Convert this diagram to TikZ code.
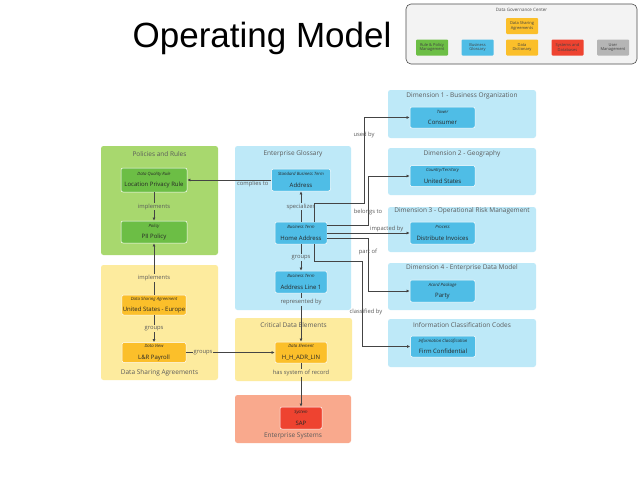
\documentclass[tikz,border=0pt]{standalone}
\usepackage{fontspec}
\setmainfont{Open Sans}
\newfontfamily\titlefont{Liberation Sans}
\usetikzlibrary{arrows.meta}
\definecolor{grpgreen}{HTML}{A8D86E}
\definecolor{trmgreen}{HTML}{6CBE45}
\definecolor{grpyellow}{HTML}{FDEB9E}
\definecolor{trmyellow}{HTML}{FBBF2A}
\definecolor{grpblue}{HTML}{BEE9F8}
\definecolor{trmblue}{HTML}{4FBDE6}
\definecolor{grpsalmon}{HTML}{F9A98D}
\definecolor{trmred}{HTML}{EE4330}
\definecolor{trmgray}{HTML}{B5B5B5}
\definecolor{dgcfill}{HTML}{F3F3F3}
\definecolor{lineclr}{HTML}{444444}
\definecolor{txtclr}{HTML}{5A5A5A}
\newcommand{\term}[2]{{\fontsize{4.3}{5}\selectfont\itshape #1}\\[-0.5pt]{\fontsize{6}{7}\selectfont #2}}
\begin{document}
\begin{tikzpicture}[x=1pt, y=-1pt,
    grp/.style={rounded corners=2.5pt},
    trm/.style={draw=white, line width=0.5pt, rounded corners=2pt, minimum width=52pt,
      minimum height=22pt, inner sep=1pt, align=center, text=black!85},
    ttl/.style={text=txtclr, font=\fontsize{6.5}{7.5}\selectfont, inner sep=0pt},
    lbl/.style={text=txtclr, font=\fontsize{5.8}{6.5}\selectfont, inner sep=1pt},
    arr/.style={-{Latex[length=3.2pt,width=3pt]}, draw=lineclr, line width=0.75pt},
    mini/.style={rounded corners=1pt, minimum width=32pt, minimum height=16pt, inner sep=0pt,
      align=center, text=black!75, font=\fontsize{4}{4.8}\selectfont}]
  \useasboundingbox[fill=white] (0,0) rectangle (638,479);
  \node[font=\titlefont\fontsize{35}{40}\selectfont, anchor=base] (title) at (262,47) {Operating Model};
  \draw[draw=black!70, fill=dgcfill, rounded corners=5pt, line width=0.6pt] (406,4) rectangle (637,64);
  \node[text=black!70, font=\fontsize{4.5}{5}\selectfont] (dgc) at (521.5,10) {Data Governance Center};
  \node[mini, fill=trmyellow] (dgcshare) at (522,26) {Data Sharing\\Agreements};
  \node[mini, fill=trmgreen] (dgcrule) at (432,47.5) {Rule \& Policy\\Management};
  \node[mini, fill=trmblue] (dgcgloss) at (477.5,47.5) {Business\\Glossary};
  \node[mini, fill=trmyellow] (dgcdict) at (522,47.5) {Data\\Dictionary};
  \node[mini, fill=trmred] (dgcsys) at (567.5,47.5) {Systems and\\Databases};
  \node[mini, fill=trmgray] (dgcuser) at (613,47.5) {User\\Management};
  \fill[grp, grpgreen] (101,146) rectangle (218,255);
  \fill[grp, grpyellow] (101,265) rectangle (218,380);
  \fill[grp, grpblue] (235,146) rectangle (351,310);
  \fill[grp, grpyellow] (235,318) rectangle (352,381);
  \fill[grp, grpsalmon] (235,395) rectangle (351,443);
  \fill[grp, grpblue] (388,90) rectangle (536,138);
  \fill[grp, grpblue] (388,148) rectangle (536,195);
  \fill[grp, grpblue] (388,207) rectangle (536,252);
  \fill[grp, grpblue] (388,263) rectangle (536,310);
  \fill[grp, grpblue] (388,319) rectangle (536,367);
  \node[ttl] (policies) at (159.5,154) {Policies and Rules};
  \node[ttl] (sharing) at (159.5,373) {Data Sharing Agreements};
  \node[ttl] (glossary) at (293,154) {Enterprise Glossary};
  \node[ttl] (critical) at (293.5,325) {Critical Data Elements};
  \node[ttl] (systems) at (293,436) {Enterprise Systems};
  \node[ttl] (dim1) at (462,96) {Dimension 1 - Business Organization};
  \node[ttl] (dim2) at (462,154) {Dimension 2 - Geography};
  \node[ttl] (dim3) at (462,211) {Dimension 3 - Operational Risk Management};
  \node[ttl] (dim4) at (462,268) {Dimension 4 - Enterprise Data Model};
  \node[ttl] (codes) at (462,325) {Information Classification Codes};
  \node[trm, fill=trmgreen, minimum width=66pt, minimum height=24pt] (rule) at (154,180) {\term{Data Quality Rule}{Location Privacy Rule}};
  \node[trm, fill=trmgreen, minimum width=66pt] (policy) at (154,232) {\term{Policy}{PII Policy}};
  \node[trm, fill=trmyellow, minimum width=64pt, minimum height=20pt] (dsa) at (154,305) {\term{Data Sharing Agreement}{United States - Europe}};
  \node[trm, fill=trmyellow, minimum width=64pt, minimum height=20pt] (view) at (154,352.5) {\term{Data View}{L\&R Payroll}};
  \node[trm, fill=trmblue, minimum width=59pt] (address) at (301,180) {\term{Standard Business Term}{Address}};
  \node[trm, fill=trmblue] (home) at (301,233) {\term{Business Term}{Home Address}};
  \node[trm, fill=trmblue] (line1) at (301,282) {\term{Business Term}{Address Line 1}};
  \node[trm, fill=trmyellow, minimum height=21pt] (element) at (301,352.5) {\term{Data Element}{H\_H\_ADR\_LIN}};
  \node[trm, fill=trmred, minimum width=42pt] (sap) at (301,418) {\term{System}{SAP}};
  \node[trm, fill=trmblue, minimum width=65pt, minimum height=21pt] (consumer) at (442.5,117.5) {\term{Tower}{Consumer}};
  \node[trm, fill=trmblue, minimum width=65pt, minimum height=21pt] (country) at (442.5,176) {\term{Country/Territory}{United States}};
  \node[trm, fill=trmblue, minimum width=65pt] (process) at (442.5,233) {\term{Process}{Distribute Invoices}};
  \node[trm, fill=trmblue, minimum width=65pt] (party) at (442.5,291) {\term{Acord Package}{Party}};
  \node[trm, fill=trmblue, minimum width=65pt, minimum height=21pt] (firm) at (443,346.5) {\term{Information Classification}{Firm Confidential}};
  \draw[arr] (rule) -- node[lbl, fill=grpgreen] {implements} (policy);
  \draw[arr] (dsa) -- node[lbl, fill=grpyellow, pos=0.33] {implements} (policy);
  \draw[arr] (dsa) -- node[lbl, fill=grpyellow] {groups} (view);
  \draw[arr] (view) -- node[lbl, fill=grpyellow, pos=0.19] {groups} (element);
  \draw[arr] (address) -- node[lbl, below, pos=0.22] {complies to} (rule);
  \draw[arr] (home) -- node[lbl, fill=grpblue] {specializes} (address);
  \draw[arr] (home) -- node[lbl, fill=grpblue] {groups} (line1);
  \draw[arr] (line1) -- node[lbl, fill=grpblue, pos=0.18] {represented by} (element);
  \draw[arr] (element) -- node[lbl, fill=grpyellow, pos=0.23] {has system of record} (sap);
  \draw[arr] ([xshift=13pt]home.north) |- ++(50,-18) |- node[lbl, pos=0.4] {used by} (consumer);
  \draw[arr] ([yshift=8pt]home.east) -| node[lbl, pos=0.63] {belongs to} (368,176) -- (country);
  \draw[arr] (home) -- node[lbl, above, pos=0.72] {impacted by} (process);
  \draw[arr] ([yshift=-5pt]home.east) -| node[lbl, pos=0.63] {part of} (368,291) -- (party);
  \draw[arr] ([xshift=13pt]home.south) |- (362,261) |- node[lbl, pos=0.3, xshift=4pt] {classified by} (firm);
\end{tikzpicture}
\end{document}
